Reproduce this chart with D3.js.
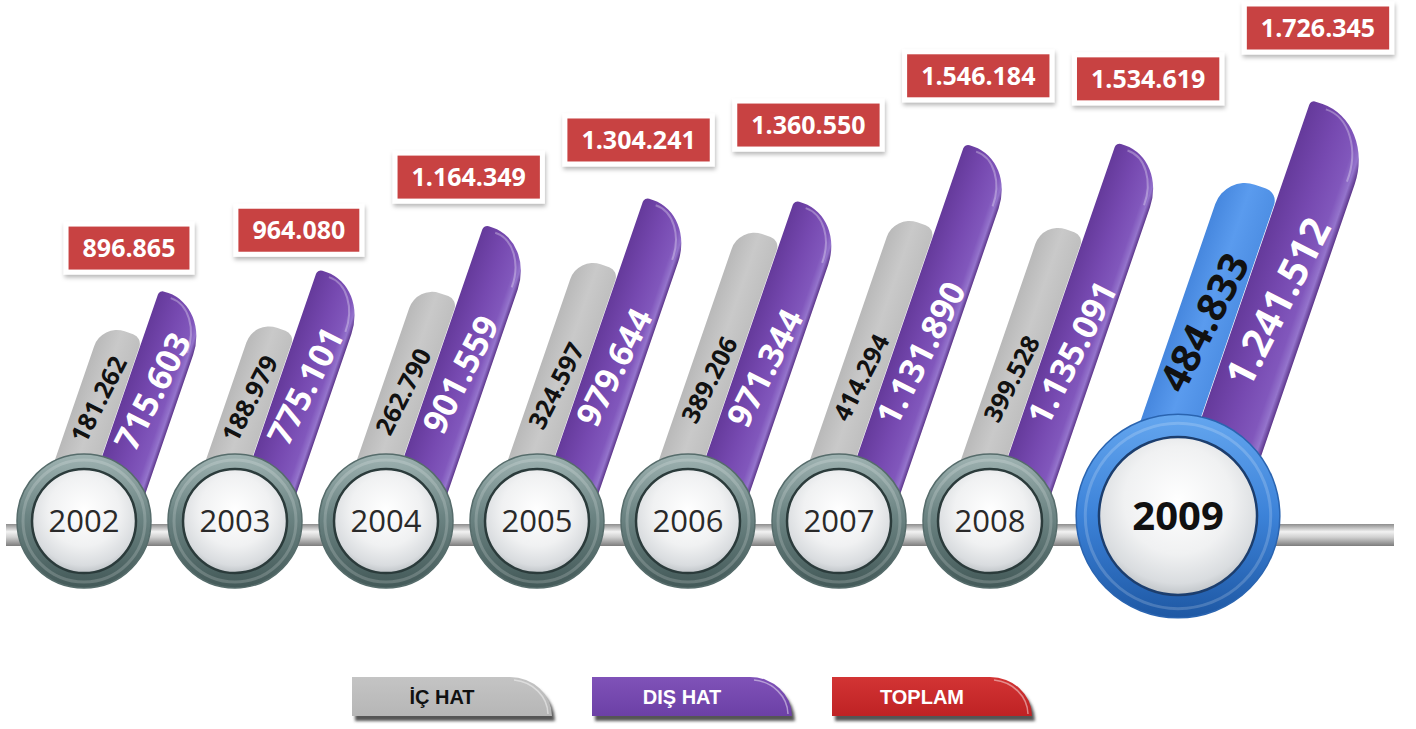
<!DOCTYPE html>
<html>
<head>
<meta charset="utf-8">
<script src="https://cdn.jsdelivr.net/npm/d3@7"></script>
<style>
body { margin: 0; background: #fff; }
svg { display: block; }
</style>
</head>
<body>
<svg id="chart" width="1416" height="729" viewBox="0 0 1416 729"></svg>
<script>
// values
const years = ["2002", "2003", "2004", "2005", "2006", "2007", "2008", "2009"];
const icHat = [181262, 188979, 262790, 324597, 389206, 414294, 399528, 484833];
const disHat = [715603, 775101, 901559, 979644, 971344, 1131890, 1135091, 1241512];
const toplam = [896865, 964080, 1164349, 1304241, 1360550, 1546184, 1534619, 1726345];
const legendLabels = ["İÇ HAT", "DIŞ HAT", "TOPLAM"];

const svg = d3.select("#chart");
const FONT = "'Open Sans', 'Noto Sans', sans-serif";

// turkish grouping: 1.234.567
const fmt = d3.formatLocale({decimal: ",", thousands: ".", grouping: [3], currency: ["", ""]}).format(",d");

const data = years.map((y, i) => ({
	year: y, ic: icHat[i], dis: disHat[i], total: toplam[i],
	hl: i === years.length - 1
}));

const x = d3.scalePoint().domain(years).range([84, 1141]);
const boxX = d3.scalePoint().domain(years).range([129, 1318]);
const icLen = d3.scaleLinear().domain(d3.extent(icHat)).range([191, 333]);
const disLen = d3.scaleLinear().domain(d3.extent(disHat)).range([231, 416]);
const totalY = d3.scaleLinear().domain([0, d3.max(toplam)]).range([486, 28]);

const theta = 19;
const rad = theta * Math.PI / 180;
const sin = Math.sin(rad), cos = Math.cos(rad);

// layout per year
data.forEach(d => {
	d.k = d.hl ? 1.52 : 1;     // circle size
	d.kw = d.hl ? 1.3 : 1;     // bar width
	d.cx = x(d.year) + (d.hl ? 37 : 0);
	d.cy = d.hl ? 516 : 521;
	d.R = 67 * d.k;
});

const defs = svg.append("defs");

function linGrad(id, stops, vertical) {
	const g = defs.append("linearGradient").attr("id", id)
		.attr("x1", "0%").attr("y1", "0%")
		.attr("x2", vertical ? "0%" : "100%").attr("y2", vertical ? "100%" : "0%");
	stops.forEach(s => g.append("stop").attr("offset", s[0]).attr("stop-color", s[1]));
}

linGrad("g-purple", [["0%", "#653a9b"], ["45%", "#7649b0"], ["80%", "#8157bc"], ["92%", "#9474cc"], ["100%", "#5b3489"]]);
linGrad("g-gray", [["0%", "#b9b9b9"], ["50%", "#c9c9c9"], ["100%", "#bfbfbf"]]);
linGrad("g-blue", [["0%", "#4687de"], ["50%", "#5a9bee"], ["100%", "#4e8fe4"]]);
linGrad("g-rail", [["0%", "#8d8d8d"], ["35%", "#f2f2f2"], ["60%", "#d0d0d0"], ["100%", "#7c7c7c"]], true);
linGrad("g-ring", [["0%", "#9fb3b2"], ["45%", "#6c8483"], ["100%", "#435958"]], true);
linGrad("g-ring-hl", [["0%", "#64a6ef"], ["50%", "#3c82d8"], ["100%", "#1e58a4"]], true);
linGrad("g-leg0", [["0%", "#c4c4c4"], ["100%", "#b6b6b6"]], true);
linGrad("g-leg1", [["0%", "#7f52b8"], ["100%", "#6c40a6"]], true);
linGrad("g-leg2", [["0%", "#d23434"], ["100%", "#bf2224"]], true);

const disc = defs.append("radialGradient").attr("id", "g-disc")
	.attr("cx", "50%").attr("cy", "40%").attr("r", "62%");
[["0%", "#ffffff"], ["55%", "#f0f1f2"], ["85%", "#d9dcdf"], ["100%", "#b9bec2"]]
	.forEach(s => disc.append("stop").attr("offset", s[0]).attr("stop-color", s[1]));

const shadow = defs.append("filter").attr("id", "f-shadow")
	.attr("x", "-20%").attr("y", "-20%").attr("width", "140%").attr("height", "160%");
shadow.append("feDropShadow").attr("dx", 1).attr("dy", 3).attr("stdDeviation", 2)
	.attr("flood-color", "#000").attr("flood-opacity", 0.28);

const blur = defs.append("filter").attr("id", "f-blur");
blur.append("feGaussianBlur").attr("stdDeviation", 1.5);

// rail
svg.append("rect")
	.attr("x", 6).attr("y", 524).attr("width", 1388).attr("height", 22)
	.attr("fill", "url(#g-rail)");

// bar path in its own frame: left edge on x=0, top at -len
function barPath(w, len, ext, rTL, rxTR, ryTR) {
	return "M0," + ext +
		" L0," + (-len + rTL) +
		" A" + rTL + "," + rTL + " 0 0 1 " + rTL + "," + (-len) +
		" L" + (w - rxTR) + "," + (-len) +
		" A" + rxTR + "," + ryTR + " 0 0 1 " + w + "," + (-len + ryTR) +
		" L" + w + "," + ext + " Z";
}

// distance along the bar for a label whose centre sits `rise` px above the circle top
function labelPos(w, rise) {
	return (rise + (w / 2) * sin) / cos;
}

const bars = svg.append("g").attr("class", "bars");

data.forEach(d => {
	const k = d.k, kw = d.kw;

	// iç hat (gray, blue for the highlighted year)
	const wG = 43 * kw;
	const rG = 24 * kw;
	const visG = icLen(d.ic) - d.R;
	const lenG = (visG + rG * (sin + cos - 1)) / cos;
	const gG = bars.append("g")
		.attr("transform", "translate(" + (d.cx - 27 * kw) + "," + (d.cy - d.R) + ") rotate(" + theta + ")");
	gG.append("path")
		.attr("d", barPath(wG, lenG, 45 * k, rG, 10 * kw, 10 * kw))
		.attr("fill", d.hl ? "url(#g-blue)" : "url(#g-gray)");
	gG.append("text")
		.attr("transform", "translate(" + (wG / 2) + "," + (-labelPos(wG, 30 * k + 0.2 * visG)) + ") rotate(" + (-63 - theta) + ")")
		.attr("text-anchor", "middle").attr("dy", "0.36em")
		.attr("font-family", FONT).attr("font-weight", 700)
		.attr("font-size", d.hl ? 40 : 25)
		.attr("fill", "#111")
		.text(fmt(d.ic));

	// dış hat (purple)
	const wP = 53 * kw;
	const visP = disLen(d.dis) - d.R;
	const lenP = visP / cos;
	const gP = bars.append("g")
		.attr("transform", "translate(" + (d.cx + 19 * kw) + "," + (d.cy - d.R) + ") rotate(" + theta + ")");
	gP.append("path")
		.attr("d", barPath(wP, lenP, 45 * k, 5, wP * 0.82, wP * 0.95))
		.attr("fill", "url(#g-purple)");
	gP.append("path")
		.attr("d", "M" + (wP * 0.25) + "," + (-lenP + 4) +
			" A" + (wP * 0.62) + "," + (wP * 0.85) + " 0 0 1 " + (wP * 0.88) + "," + (-lenP + wP * 0.95))
		.attr("fill", "none").attr("stroke", "rgba(255,255,255,0.3)").attr("stroke-width", 2);
	gP.append("text")
		.attr("transform", "translate(" + (wP / 2) + "," + (-labelPos(wP, 20 * k + 0.26 * visP)) + ") rotate(" + (-63 - theta) + ")")
		.attr("text-anchor", "middle").attr("dy", "0.36em")
		.attr("font-family", FONT).attr("font-weight", 700)
		.attr("font-size", d.hl ? 40 : 34)
		.attr("fill", "#fff")
		.text(fmt(d.dis));
});

// year circles
const circles = svg.append("g").selectAll("g")
	.data(data)
	.enter().append("g")
	.attr("transform", d => "translate(" + d.cx + "," + d.cy + ")");

circles.append("circle")
	.attr("r", d => d.R)
	.attr("fill", d => d.hl ? "url(#g-ring-hl)" : "url(#g-ring)")
	.attr("stroke", d => d.hl ? "#2a64b0" : "#566c6b")
	.attr("stroke-width", 1.5);

circles.append("circle")
	.attr("r", d => d.R - 6 * d.k)
	.attr("fill", "none")
	.attr("stroke", "rgba(255,255,255,0.18)")
	.attr("stroke-width", 3);

circles.append("circle")
	.attr("r", d => 52 * d.k)
	.attr("fill", "url(#g-disc)")
	.attr("stroke", d => d.hl ? "#1c3e6e" : "#2b3b3b")
	.attr("stroke-width", 2.5);

circles.append("text")
	.attr("text-anchor", "middle")
	.attr("dy", "0.36em")
	.attr("font-family", FONT)
	.attr("font-size", d => d.hl ? 40 : 31)
	.attr("font-weight", d => d.hl ? 700 : 400)
	.attr("fill", d => d.hl ? "#111" : "#2a2a2a")
	.text(d => d.year);

// total boxes
const boxes = svg.append("g").selectAll("g")
	.data(data)
	.enter().append("g")
	.attr("transform", d => "translate(" + boxX(d.year) + "," + totalY(d.total) + ")");

boxes.each(function(d) {
	const g = d3.select(this);
	const t = g.append("text")
		.attr("text-anchor", "middle").attr("dy", "0.36em")
		.attr("font-family", FONT).attr("font-weight", 700)
		.attr("font-size", 25).attr("fill", "#fff")
		.text(fmt(d.total));
	const tw = t.node().getComputedTextLength();
	const bw = tw + 28, bh = 43;
	g.insert("rect", "text")
		.attr("x", -bw / 2 - 5).attr("y", -bh / 2 - 5)
		.attr("width", bw + 10).attr("height", bh + 10)
		.attr("fill", "#fff")
		.attr("filter", "url(#f-shadow)");
	g.insert("rect", "text")
		.attr("x", -bw / 2).attr("y", -bh / 2)
		.attr("width", bw).attr("height", bh)
		.attr("fill", "#c84242");
});

// legend
const legW = 200, legH = 39;
function tabPath(w, h) {
	const rx = 42;
	return "M0,0 L" + (w - rx) + ",0 A" + rx + "," + h + " 0 0 1 " + w + "," + h + " L0," + h + " Z";
}

const legend = svg.append("g").selectAll("g")
	.data(legendLabels)
	.enter().append("g")
	.attr("transform", (d, i) => "translate(" + (352 + i * 240) + ",677)");

legend.append("path")
	.attr("d", tabPath(legW, legH))
	.attr("transform", "translate(3,5)")
	.attr("fill", "#555")
	.attr("filter", "url(#f-blur)");

legend.append("path")
	.attr("d", tabPath(legW, legH))
	.attr("fill", (d, i) => "url(#g-leg" + i + ")");

legend.append("path")
	.attr("d", "M" + (legW - 38) + ",3 A38," + (legH - 4) + " 0 0 1 " + (legW - 4) + "," + (legH - 2))
	.attr("fill", "none")
	.attr("stroke", "rgba(255,255,255,0.45)")
	.attr("stroke-width", 1.5);

legend.append("text")
	.attr("x", legW * 0.45)
	.attr("y", legH / 2)
	.attr("dy", "0.36em")
	.attr("text-anchor", "middle")
	.attr("font-family", "'Liberation Sans', Arial, sans-serif")
	.attr("font-weight", 700)
	.attr("font-size", 20)
	.attr("fill", (d, i) => i === 0 ? "#111" : "#fff")
	.text(d => d);
</script>
</body>
</html>
